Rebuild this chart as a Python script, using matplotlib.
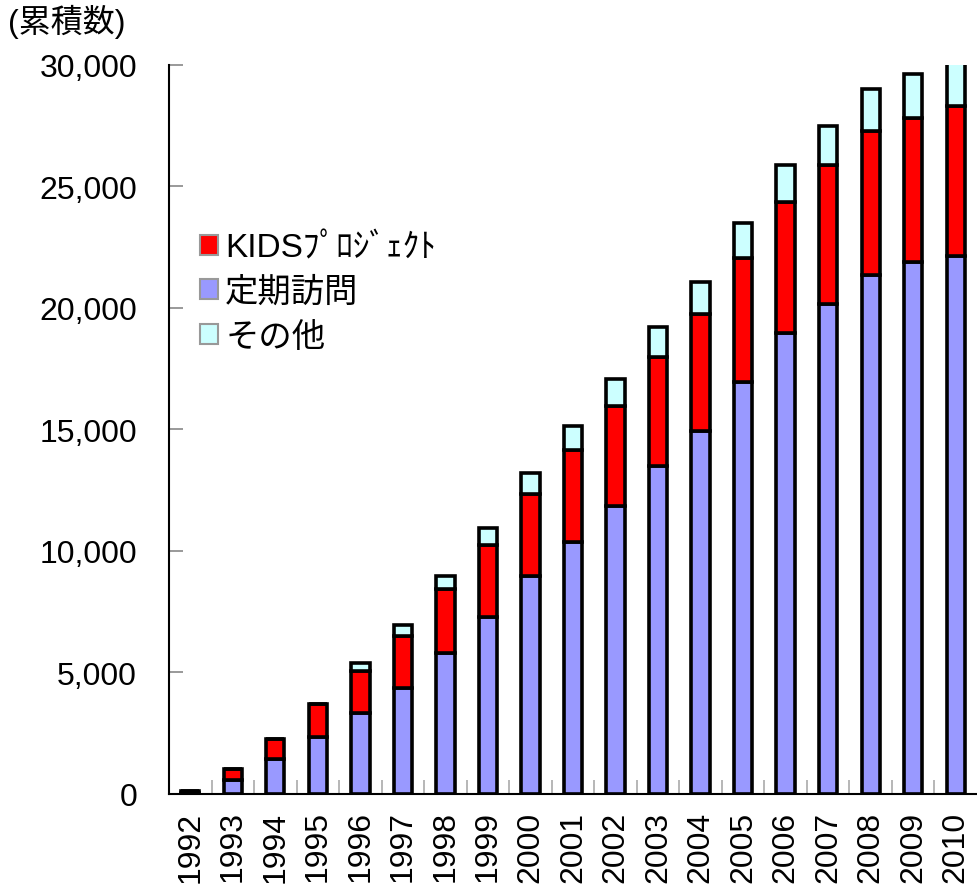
import matplotlib
matplotlib.use("Agg")
import matplotlib.pyplot as plt
from matplotlib.patches import Patch
from matplotlib.ticker import FuncFormatter, FixedLocator

plt.rcParams['font.family'] = ['Liberation Sans', 'Noto Sans CJK JP', 'DejaVu Sans']

# Cumulative counts per year
years = [str(y) for y in range(1992, 2011)]
teiki = [30, 550, 1450, 2350, 3330, 4360, 5800, 7280, 8970, 10370,
         11850, 13500, 14940, 16950, 18970, 20160, 21360, 21890, 22140]
kids = [70, 450, 800, 1350, 1730, 2140, 2640, 2970, 3380, 3790,
        4120, 4480, 4810, 5110, 5390, 5720, 5920, 5930, 6160]
other = [0, 0, 0, 0, 330, 450, 530, 700, 850, 980,
         1080, 1220, 1320, 1440, 1520, 1610, 1720, 1810, 2200]

labels = ["KIDSﾌﾟﾛｼﾞｪｸﾄ", "定期訪問", "その他"]
c_kids = "#FF0000"
c_teiki = "#9999FF"
c_other = "#CCFFFF"

fig = plt.figure(figsize=(9.77, 8.87), dpi=100)
ax = fig.add_axes([0.173, 0.104, 0.827, 0.822])

x = list(range(len(years)))
w = 0.43
lw = 2.6
ax.bar(x, teiki, w, color=c_teiki, edgecolor="black", linewidth=lw, zorder=3)
ax.bar(x, kids, w, bottom=teiki, color=c_kids, edgecolor="black", linewidth=lw, zorder=3)
base2 = [a + b for a, b in zip(teiki, kids)]
ax.bar(x, other, w, bottom=base2, color=c_other, edgecolor="black", linewidth=lw, zorder=3)

ax.set_xlim(-0.5, len(years) - 0.5)
ax.set_ylim(0, 30000)
ax.set_yticks(range(0, 30001, 5000))
ax.yaxis.set_major_formatter(FuncFormatter(lambda v, p: f"{int(v):,}"))
ax.tick_params(axis="y", direction="in", length=10, width=1.2, color="#888888",
               labelsize=23, pad=23)

ax.set_xticks(x)
ax.set_xticklabels(years, rotation=90, fontsize=23)
ax.tick_params(axis="x", which="major", length=0, pad=12)
ax.xaxis.set_minor_locator(FixedLocator([i + 0.5 for i in range(len(years) - 1)]))
ax.tick_params(axis="x", which="minor", direction="in", length=10, width=1.2, color="#AAAAAA")

for s in ["top", "right"]:
    ax.spines[s].set_visible(False)
for s in ["left", "bottom"]:
    ax.spines[s].set_linewidth(1.5)

fig.text(0.008, 0.975, "(累積数)", fontsize=23, ha="left", va="center")

handles = [Patch(facecolor=c_kids, edgecolor="#999999", linewidth=1.5),
           Patch(facecolor=c_teiki, edgecolor="#999999", linewidth=1.5),
           Patch(facecolor=c_other, edgecolor="#999999", linewidth=1.5)]
leg = ax.legend(handles, labels, loc="upper left", bbox_to_anchor=(0.022, 0.788),
                frameon=False, fontsize=24, handlelength=0.55, handleheight=0.55,
                handletextpad=0.2, labelspacing=0.4, borderaxespad=0)

fig.savefig("out.png", dpi=100)
